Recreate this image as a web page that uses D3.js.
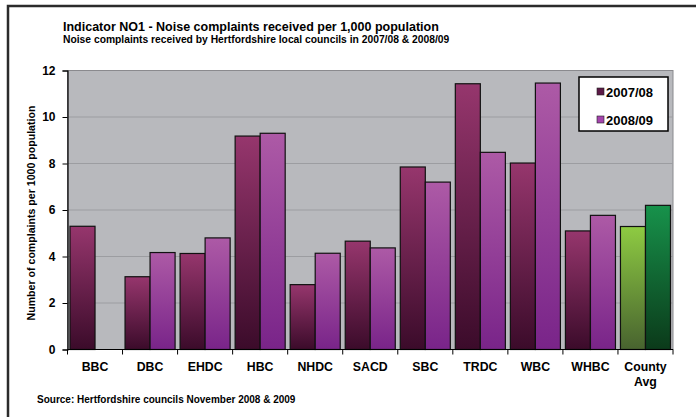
<!DOCTYPE html>
<html>
<head>
<meta charset="utf-8">
<script src="https://cdn.jsdelivr.net/npm/d3@7"></script>
<style>
  body { margin: 0; background: #fff; }
  svg { display: block; font-family: 'Liberation Sans', Arial, sans-serif; }
  text { font-weight: bold; fill: #000; }
</style>
</head>
<body>
<div class="container"></div>
<script>
// councils along the x axis
const councils = ['BBC', 'DBC', 'EHDC', 'HBC', 'NHDC', 'SACD', 'SBC', 'TRDC', 'WBC', 'WHBC', 'County Avg'];
const seriesNames = ['2007/08', '2008/09'];
// complaints per 1,000 population (BBC has no 2008/09 value)
const values0708 = [5.3, 3.13, 4.13, 9.18, 2.79, 4.66, 7.85, 11.43, 8.02, 5.1, 5.29];
const values0809 = [null, 4.17, 4.8, 9.3, 4.14, 4.37, 7.2, 8.48, 11.46, 5.77, 6.2];
const yTicks = [0, 2, 4, 6, 8, 10, 12];

const W = 696;
const H = 417;
const plot = { left: 67.5, right: 673, top: 70.5, bottom: 349.5 };

const svg = d3.select('.container')
  .append('svg')
  .attr('width', W)
  .attr('height', H);

// gradients: purple pair for councils, green pair for the county average
const defs = svg.append('defs');
const gradients = [
  { id: 'g0', top: '#96366d', bottom: '#3b0b2a' },
  { id: 'g1', top: '#ad5aa6', bottom: '#792489' },
  { id: 'c0', top: '#8ecb42', bottom: '#48632f' },
  { id: 'c1', top: '#17924b', bottom: '#0b3a1a' }
];
gradients.forEach(g => {
  const lg = defs.append('linearGradient')
    .attr('id', g.id)
    .attr('x1', 0).attr('y1', 0).attr('x2', 0).attr('y2', 1);
  lg.append('stop').attr('offset', '0%').attr('stop-color', g.top);
  lg.append('stop').attr('offset', '100%').attr('stop-color', g.bottom);
});

// outer frame
svg.append('rect')
  .attr('x', 8)
  .attr('y', 6)
  .attr('width', 720)
  .attr('height', 440)
  .attr('fill', 'none')
  .attr('stroke', '#2b2b2b')
  .attr('stroke-width', 2.5);

// titles
svg.append('text')
  .attr('x', 63)
  .attr('y', 30.5)
  .attr('font-size', '12.5px')
  .text('Indicator NO1 - Noise complaints received per 1,000 population');

svg.append('text')
  .attr('x', 63)
  .attr('y', 42.5)
  .attr('font-size', '10.3px')
  .text('Noise complaints received by Hertfordshire local councils in 2007/08 & 2008/09');

// scales
const x = d3.scaleBand()
  .domain(councils)
  .range([plot.left, plot.right]);

const x1 = d3.scaleBand()
  .domain(seriesNames)
  .range([0, x.bandwidth()])
  .paddingOuter(0.1);

const y = d3.scaleLinear()
  .domain([0, 12])
  .range([plot.bottom, plot.top]);

// plot background
svg.append('rect')
  .attr('x', plot.left)
  .attr('y', plot.top)
  .attr('width', plot.right - plot.left)
  .attr('height', plot.bottom - plot.top)
  .attr('fill', '#b8b9bd')
  .attr('stroke', '#8a8a8e')
  .attr('stroke-width', 1);

// gridlines
svg.append('g')
  .selectAll('line')
  .data(yTicks.filter(d => d > 0 && d < 12))
  .enter()
  .append('line')
  .attr('x1', plot.left)
  .attr('x2', plot.right)
  .attr('y1', d => y(d))
  .attr('y2', d => y(d))
  .attr('stroke', '#9c9da1')
  .attr('stroke-width', 1);

// bars
const rows = councils.map((c, i) => ({
  council: c,
  vals: [values0708[i], values0809[i]]
}));

const groups = svg.append('g')
  .selectAll('g')
  .data(rows)
  .enter()
  .append('g')
  .attr('transform', d => `translate(${x(d.council)},0)`);

groups.selectAll('rect')
  .data(d => d.vals
    .map((v, j) => ({ key: seriesNames[j], v, j, county: d.council === 'County Avg' }))
    .filter(e => e.v !== null))
  .enter()
  .append('rect')
  .attr('x', d => x1(d.key))
  .attr('width', x1.bandwidth())
  .attr('y', d => y(d.v))
  .attr('height', d => y(0) - y(d.v))
  .attr('fill', d => `url(#${d.county ? 'c' : 'g'}${d.j})`)
  .attr('stroke', '#111')
  .attr('stroke-width', 1.2);

// y axis
const yAxis = svg.append('g')
  .attr('transform', `translate(${plot.left},0)`)
  .call(d3.axisLeft(y).tickValues(yTicks).tickSize(5).tickPadding(7).tickFormat(d3.format('d')));
yAxis.select('.domain').attr('stroke', '#000').attr('stroke-width', 1.2);
yAxis.selectAll('.tick line').attr('stroke', '#000');
yAxis.selectAll('.tick text')
  .attr('font-size', '12px')
  .attr('font-family', "'Liberation Sans', Arial, sans-serif")
  .attr('font-weight', 'bold')
  .attr('fill', '#000');

// x axis line and boundary ticks
svg.append('line')
  .attr('x1', plot.left)
  .attr('x2', plot.right)
  .attr('y1', plot.bottom)
  .attr('y2', plot.bottom)
  .attr('stroke', '#000')
  .attr('stroke-width', 1.2);

svg.append('g')
  .selectAll('line')
  .data(councils.map(c => x(c)).concat([plot.right]))
  .enter()
  .append('line')
  .attr('x1', d => d)
  .attr('x2', d => d)
  .attr('y1', plot.bottom)
  .attr('y2', plot.bottom + 5)
  .attr('stroke', '#000')
  .attr('stroke-width', 1);

// x labels, County Avg wraps onto two lines
const xLabels = svg.append('g')
  .selectAll('text')
  .data(councils)
  .enter()
  .append('text')
  .attr('x', d => x(d) + x.bandwidth() / 2)
  .attr('y', 370.5)
  .attr('text-anchor', 'middle')
  .attr('font-size', '12.3px');

xLabels.each(function (d) {
  const words = d === 'County Avg' ? ['County', 'Avg'] : [d];
  d3.select(this)
    .selectAll('tspan')
    .data(words)
    .enter()
    .append('tspan')
    .attr('x', x(d) + x.bandwidth() / 2)
    .attr('dy', (w, i) => i === 0 ? 0 : 15)
    .text(w => w);
});

// y axis title
svg.append('text')
  .attr('transform', `translate(34.5,${(plot.top + plot.bottom) / 2 + 3}) rotate(-90)`)
  .attr('text-anchor', 'middle')
  .attr('font-size', '10.6px')
  .text('Number of complaints per 1000 population');

// legend
const legend = svg.append('g');
legend.append('rect')
  .attr('x', 579)
  .attr('y', 77)
  .attr('width', 89)
  .attr('height', 54)
  .attr('fill', '#fff')
  .attr('stroke', '#000')
  .attr('stroke-width', 1.5);

const legendColors = ['#5c1a47', '#a445ad'];
seriesNames.forEach((s, i) => {
  legend.append('rect')
    .attr('x', 597)
    .attr('y', 88 + i * 28)
    .attr('width', 7)
    .attr('height', 7)
    .attr('fill', legendColors[i])
    .attr('stroke', '#222')
    .attr('stroke-width', 0.6);
  legend.append('text')
    .attr('x', 606)
    .attr('y', 96.5 + i * 28)
    .attr('font-size', '13px')
    .text(s);
});

// source
svg.append('text')
  .attr('x', 37)
  .attr('y', 402.5)
  .attr('font-size', '10px')
  .text('Source: Hertfordshire councils November 2008 & 2009');
</script>
</body>
</html>
